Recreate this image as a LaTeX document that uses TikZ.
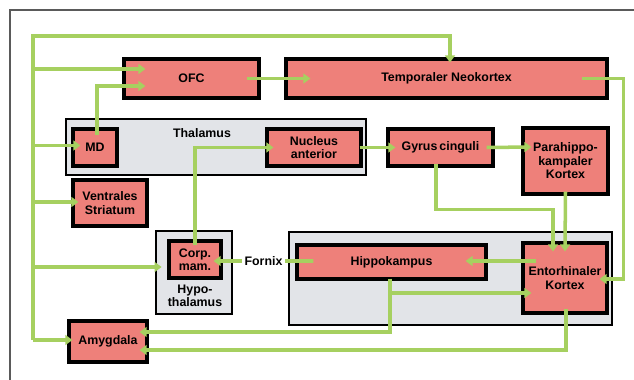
\documentclass[tikz,border=0pt]{standalone}
\usepackage{fontspec}
\setmainfont{Liberation Sans}
\usetikzlibrary{arrows.meta, calc, positioning}
\definecolor{areared}{RGB}{238, 128, 122}
\definecolor{regiongray}{RGB}{226, 228, 232}
\definecolor{pathgreen}{RGB}{166, 208, 96}
\definecolor{framegray}{RGB}{90, 90, 90}
\tikzset{
  area/.style={draw=black, line width=2.2pt, fill=areared, font=\bfseries\fontsize{8.8}{9.6}\selectfont,
    align=center, inner sep=1pt},
  region/.style={draw=black, line width=2pt, fill=regiongray},
  tag/.style={text=black, font=\bfseries\fontsize{8.8}{9.6}\selectfont, align=center, inner sep=1pt},
  link/.style={pathgreen, line width=2.5pt, -{Triangle[length=5pt, width=7pt]}},
  trunk/.style={pathgreen, line width=2.5pt}
}

\begin{document}
\begin{tikzpicture}[x=0.025cm, y=-0.025cm]
  \useasboundingbox (0,0) rectangle (634,380);
  % Frame
  \draw[framegray, line width=0.8pt] (10,380) -- (10,10) -- (634,10);

  % Regions
  \node[region, minimum width=7.5cm, minimum height=1.4cm] (thal) at (216,147) {};
  \node[tag] (thallab) at (202,133) {Thalamus};
  \node[region, minimum width=1.9cm, minimum height=2.075cm] (hypo) at (194,272.5) {};
  \node[tag] (hypolab) at (195,296) {Hypo-\\thalamus};
  \node[region, minimum width=8.075cm, minimum height=2.325cm] (hipbg) at (450.5,278.5) {};

  % Areas
  \node[area, minimum width=3.375cm, minimum height=0.975cm] (ofc) at (191.5,78.5) {OFC};
  \node[area, minimum width=8.025cm, minimum height=0.975cm] (neo) at (446.5,78.5) {Temporaler Neokortex};
  \node[area, minimum width=1.1cm, minimum height=0.925cm] (md) at (95,147.5) {MD};
  \node[area, minimum width=2.35cm, minimum height=0.925cm] (nucant) at (314,147.5) {Nucleus\\anterior};
  \node[area, minimum width=2.625cm, minimum height=0.925cm] (gyrus) at (440.5,147.5) {Gyrus\,cinguli};
  \node[area, minimum width=2.125cm, minimum height=1.65cm] (para) at (565.5,161) {Parahippo-\\kampaler\\Kortex};
  \node[area, minimum width=1.85cm, minimum height=1.15cm] (vstr) at (110,203) {Ventrales\\Striatum};
  \node[area, minimum width=1.3cm, minimum height=0.925cm] (corp) at (195,259.5) {Corp.\\mam.};
  \node[area, minimum width=4.725cm, minimum height=0.85cm] (hip) at (391.5,262) {Hippokampus};
  \node[area, minimum width=2.1cm, minimum height=1.75cm] (ento) at (565,278) {Entorhinaler\\Kortex};
  \node[area, minimum width=1.95cm, minimum height=1.025cm] (amy) at (108,341.5) {Amygdala};

  % Ends of the connectors
  \coordinate (bustop) at (33,36);
  \coordinate (busbot) at (33,340);
  \coordinate (neoin) at ($(neo.north)+(3.5,5)$);
  \coordinate (neoin2) at ($(neo.west)+(26,0)$);
  \coordinate (neoout) at ($(neo.east)+(-27,0)$);
  \coordinate (ofcin1) at ($(ofc.west)+(23,-9.5)$);
  \coordinate (ofcin2) at ($(ofc.west)+(23,7.5)$);
  \coordinate (ofcout) at ($(ofc.east)+(-14,0)$);
  \coordinate (mdin) at ($(md.west)+(9,-2)$);
  \coordinate (mdout) at ($(md.north)+(2,8)$);
  \coordinate (vstrin) at ($(vstr.west)+(7,-1)$);
  \coordinate (hypoin) at ($(hypo.west)+(7,-5.5)$);
  \coordinate (corpout) at ($(corp.north)+(0,6)$);
  \coordinate (corpin) at ($(corp.east)+(-9,1.5)$);
  \coordinate (nucin) at ($(nucant.west)+(8,0)$);
  \coordinate (nucout) at ($(nucant.east)+(-3,0)$);
  \coordinate (gyrin) at ($(gyrus.west)+(9,0)$);
  \coordinate (gyrout) at ($(gyrus.east)+(-8,0)$);
  \coordinate (gyrdown) at ($(gyrus.south)+(-4.5,-4)$);
  \coordinate (parin) at ($(para.west)+(10,-14)$);
  \coordinate (paraout) at ($(para.south)+(0,-4)$);
  \coordinate (entoin1) at ($(ento.north)+(-12,10)$);
  \coordinate (entoin2) at ($(ento.north)+(0,10)$);
  \coordinate (entoin3) at ($(ento.east)+(-9,1)$);
  \coordinate (entoin4) at ($(ento.west)+(10,15)$);
  \coordinate (entoout1) at ($(ento.west)+(15,-17)$);
  \coordinate (entoout2) at ($(ento.south)+(1,-6)$);
  \coordinate (hipin) at ($(hip.east)+(-22,-1)$);
  \coordinate (hipout) at ($(hip.west)+(18,-1)$);
  \coordinate (hipdown) at ($(hip.south)+(-1.5,-2)$);
  \coordinate (amyin1) at ($(amy.west)+(5,-1.5)$);
  \coordinate (amyin2) at ($(amy.east)+(-9,-9.5)$);
  \coordinate (amyin3) at ($(amy.east)+(-9,8.5)$);

  % Left trunk
  \draw[link] (busbot) -- (bustop) -| (neoin);
  \draw[link] (bustop |- ofcin1) -- (ofcin1);
  \draw[link] (bustop |- mdin) -- (mdin);
  \draw[link] (bustop |- vstrin) -- (vstrin);
  \draw[link] (bustop |- hypoin) -- (hypoin);
  \draw[link] (busbot) -- (amyin1);

  % Cortical paths
  \draw[link] (mdout) |- (ofcin2);
  \draw[link] (ofcout) -- (neoin2);
  \draw[link] (neoout) -- ++(42,0) |- (entoin3);

  % Papez circuit
  \draw[link] (corpout) |- (nucin);
  \draw[link] (nucout) -- (gyrin);
  \draw[link] (gyrout) -- (parin);
  \draw[link] (gyrdown) -- ++(0,46) -| (entoin1);
  \draw[link] (paraout) -- (entoin2);
  \draw[link] (entoout1) -- (hipin);
  \draw[link] (hipout) -- node[tag, fill=white, inner xsep=2pt] (fornix) {Fornix} (corpin);
  \draw[link] (hipdown) |- (amyin2);
  \draw[link] (hipdown |- entoin4) -- (entoin4);
  \draw[link] (entoout2) |- (amyin3);
\end{tikzpicture}
\end{document}
